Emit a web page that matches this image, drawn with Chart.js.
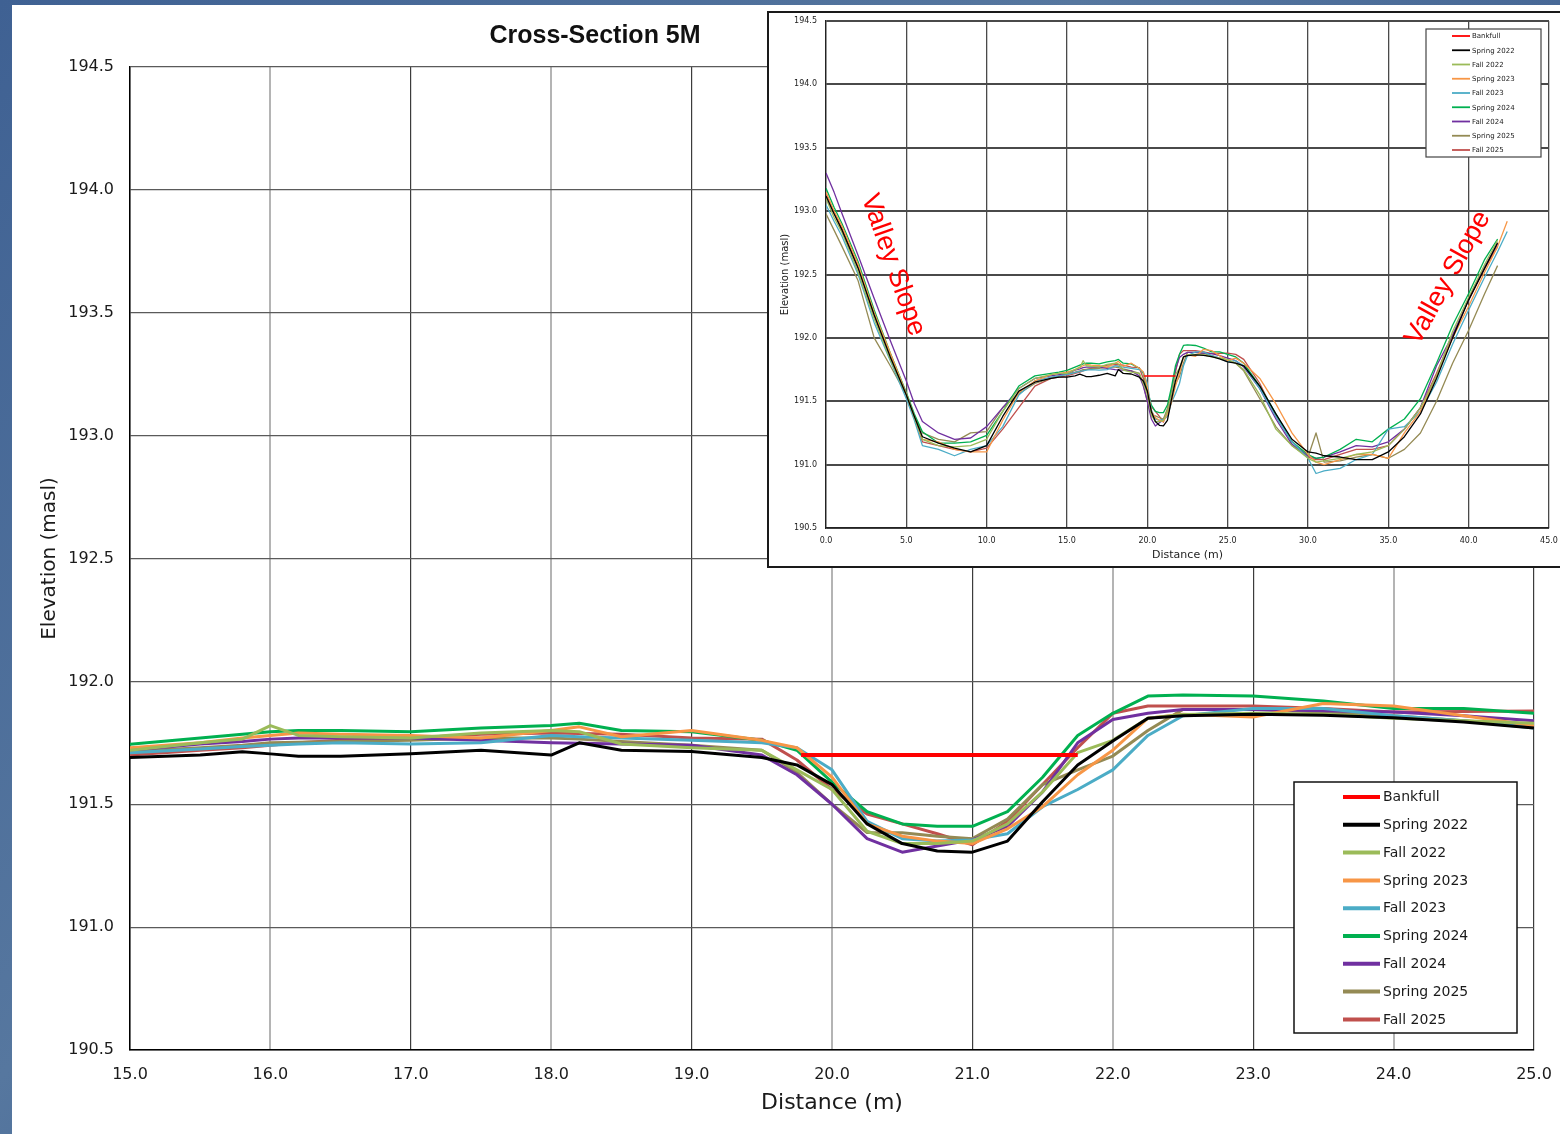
<!DOCTYPE html>
<html>
<head>
<meta charset="utf-8">
<script src="https://cdn.jsdelivr.net/npm/chart.js@4.4.0/dist/chart.umd.min.js"></script>
<style>
html,body{margin:0;padding:0;width:1560px;height:1134px;overflow:hidden;
  background:linear-gradient(135deg,#3f6193 0%,#56779f 40%,#3d5e90 70%,#5273a3 100%);}
#panel{position:absolute;left:12px;top:5px;width:1548px;height:1129px;background:#fff;}
#mainWrap{position:absolute;left:0;top:0;width:1560px;height:1134px;}
#insetBox{position:absolute;left:767px;top:11px;width:800px;height:553px;border:2px solid #1a1a1a;background:#fff;}
#insetWrap{position:absolute;left:0;top:0;width:791px;height:553px;}
</style>
</head>
<body>
<div id="panel"></div>
<div id="mainWrap"><canvas id="mainChart"></canvas></div>
<div id="insetBox"><div id="insetWrap"><canvas id="insetChart"></canvas></div></div>
<script>
// ---------- DATA ----------
const distance = [0, 0.5, 1, 2, 3, 4, 5, 5.5, 6, 7, 8, 9, 10, 11, 12, 13, 14, 14.5,
  15, 15.5, 15.8, 16, 16.2, 16.5, 17, 17.5, 18, 18.2, 18.5, 19, 19.5, 19.75, 20, 20.25, 20.5, 20.75,
  21, 21.25, 21.5, 21.75, 22, 22.25, 22.5, 23, 23.5, 24, 24.5, 25,
  25.5, 26, 27, 28, 29, 30, 30.5, 31, 32, 33, 34, 35, 36, 37, 38, 39, 40, 41, 41.8, 42.4];

const bankfullDistance = [19.78, 21.75];
const bankfullElevation = [191.70, 191.70];

const spring2022 = [193.12, 192.98, 192.85, 192.55, 192.18, 191.85, 191.55, 191.38, 191.22, 191.17, 191.13, 191.10, 191.15, 191.38, 191.58, 191.65, 191.68, 191.69,
  191.69, 191.70, 191.714, 191.705, 191.695, 191.695, 191.705, 191.72, 191.70, 191.75, 191.72, 191.715, 191.69, 191.66, 191.58, 191.42, 191.34, 191.31,
  191.305, 191.35, 191.51, 191.66, 191.757, 191.85, 191.86, 191.866, 191.862, 191.852, 191.835, 191.81,
  191.80, 191.78, 191.62, 191.40, 191.20, 191.10, 191.09, 191.07, 191.06, 191.04, 191.04, 191.10, 191.22, 191.40, 191.68, 192.00, 192.30, 192.55, 192.75, null];

const fall2022 = [193.10, 192.95, 192.83, 192.52, 192.15, 191.83, 191.55, 191.37, 191.20, 191.15, 191.14, 191.15, 191.20, 191.42, 191.60, 191.68, 191.71, 191.72,
  191.72, 191.75, 191.765, 191.82, 191.78, 191.775, 191.77, 191.79, 191.80, 191.795, 191.745, 191.73, 191.72, 191.64, 191.56, 191.39, 191.34, 191.34,
  191.35, 191.42, 191.55, 191.71, 191.76, 191.85, 191.865, 191.87, 191.866, 191.85, 191.84, 191.83,
  191.80, 191.75, 191.55, 191.28, 191.15, 191.05, 191.02, 191.03, 191.05, 191.08, 191.10, 191.15, 191.28, 191.45, 191.70, 192.05, 192.32, 192.58, 192.77, null];

const spring2023 = [193.15, 193.00, 192.88, 192.58, 192.20, 191.88, 191.56, 191.38, 191.20, 191.18, 191.12, 191.10, 191.10, 191.35, 191.57, 191.66, 191.71, 191.72,
  191.73, 191.75, 191.77, 191.78, 191.79, 191.785, 191.78, 191.77, 191.80, 191.815, 191.775, 191.80, 191.76, 191.73, 191.61, 191.42, 191.37, 191.35,
  191.34, 191.40, 191.49, 191.62, 191.72, 191.85, 191.866, 191.855, 191.91, 191.90, 191.86, 191.82,
  191.84, 191.80, 191.68, 191.48, 191.25, 191.08, 191.02, 191.00, 191.04, 191.08, 191.08, 191.05, 191.25, 191.42, 191.70, 192.00, 192.25, 192.52, 192.72, 192.92];

const fall2023 = [193.05, 192.92, 192.80, 192.50, 192.12, 191.82, 191.52, 191.35, 191.15, 191.12, 191.07, 191.12, 191.15, 191.30, 191.55, 191.66, 191.69, 191.70,
  191.71, 191.725, 191.735, 191.74, 191.745, 191.75, 191.745, 191.75, 191.78, 191.775, 191.77, 191.76, 191.75, 191.73, 191.64, 191.43, 191.36, 191.35,
  191.355, 191.38, 191.49, 191.56, 191.64, 191.78, 191.86, 191.89, 191.89, 191.86, 191.84, 191.81,
  191.82, 191.78, 191.60, 191.38, 191.18, 191.05, 190.93, 190.95, 190.97, 191.04, 191.08, 191.28, 191.30, 191.42, 191.65, 191.95, 192.22, 192.48, 192.68, 192.84];

const spring2024 = [193.18, 193.03, 192.90, 192.60, 192.22, 191.88, 191.57, 191.40, 191.26, 191.17, 191.17, 191.18, 191.23, 191.42, 191.62, 191.70, 191.72, 191.73,
  191.744, 191.77, 191.785, 191.795, 191.80, 191.80, 191.795, 191.81, 191.82, 191.83, 191.80, 191.795, 191.76, 191.72, 191.59, 191.47, 191.42, 191.41,
  191.41, 191.47, 191.61, 191.78, 191.87, 191.94, 191.945, 191.94, 191.92, 191.89, 191.89, 191.87,
  191.85, 191.80, 191.62, 191.40, 191.18, 191.08, 191.05, 191.06, 191.12, 191.20, 191.18, 191.28, 191.36, 191.52, 191.80, 192.10, 192.35, 192.62, 192.78, null];

const fall2024 = [193.30, 193.15, 192.98, 192.65, 192.31, 191.98, 191.66, 191.48, 191.34, 191.25, 191.20, 191.21, 191.30, 191.45, 191.60, 191.68, 191.70, 191.71,
  191.72, 191.745, 191.755, 191.765, 191.77, 191.77, 191.77, 191.76, 191.75, 191.748, 191.745, 191.74, 191.70, 191.62, 191.50, 191.36, 191.305, 191.33,
  191.355, 191.41, 191.55, 191.75, 191.845, 191.87, 191.886, 191.886, 191.88, 191.875, 191.86, 191.84,
  191.82, 191.77, 191.60, 191.36, 191.16, 191.07, 191.05, 191.06, 191.10, 191.15, 191.14, 191.18, 191.28, 191.45, 191.78, 192.02, 192.30, 192.56, 192.74, null];

const spring2025 = [192.98, 192.85, 192.72, 192.45, 192.00, 191.78, 191.55, 191.38, 191.25, 191.20, 191.18, 191.25, 191.26, 191.45, 191.56, 191.64, 191.68, 191.70,
  191.715, 191.73, 191.74, 191.75, 191.752, 191.755, 191.76, 191.77, 191.77, 191.765, 191.755, 191.74, 191.72, 191.63, 191.50, 191.385, 191.384, 191.37,
  191.36, 191.44, 191.58, 191.64, 191.696, 191.80, 191.886, 191.886, 191.875, 191.86, 191.84, 191.82,
  191.80, 191.74, 191.52, 191.30, 191.15, 191.06, 191.25, 191.02, 191.03, 191.06, 191.08, 191.05, 191.12, 191.25, 191.50, 191.80, 192.06, 192.35, 192.57, null];

const fall2025 = [193.14, 192.99, 192.86, 192.56, 192.18, 191.85, 191.56, 191.38, 191.18, 191.15, 191.12, 191.10, 191.13, 191.28, 191.45, 191.62, 191.68, 191.69,
  191.70, 191.72, 191.73, 191.74, 191.75, 191.76, 191.77, 191.785, 191.79, 191.788, 191.785, 191.77, 191.765, 191.68, 191.56, 191.46, 191.42, 191.38,
  191.335, 191.43, 191.58, 191.73, 191.87, 191.90, 191.90, 191.90, 191.89, 191.875, 191.877, 191.879,
  191.87, 191.83, 191.64, 191.38, 191.18, 191.06, 191.04, 191.04, 191.08, 191.12, 191.12, 191.15, 191.28, 191.45, 191.72, 192.02, 192.30, 192.55, 192.72, null];

const surveyLabels = ['Spring 2022', 'Fall 2022', 'Spring 2023', 'Fall 2023', 'Spring 2024', 'Fall 2024', 'Spring 2025', 'Fall 2025'];
const surveyValues = [spring2022, fall2022, spring2023, fall2023, spring2024, fall2024, spring2025, fall2025];
const surveyColors = ['#000000', '#9bbb59', '#f79646', '#4bacc6', '#00b050', '#7030a0', '#948a54', '#c0504d'];
const bankfullLabel = 'Bankfull';
const bankfullColor = '#ff0000';

const mainXTicks = {min: 15, max: 25, step: 1};
const insetXTicks = {min: 0, max: 45, step: 5};
const yTicks = {min: 190.5, max: 194.5, step: 0.5};

// ---------- HELPERS ----------
const FONT = '"DejaVu Sans", Verdana, sans-serif';

function makeDatasets(lw, bankLw) {
  const ds = [{
    label: bankfullLabel,
    data: bankfullDistance.map((d, i) => ({x: d, y: bankfullElevation[i]})),
    borderColor: bankfullColor, borderWidth: bankLw
  }];
  surveyLabels.forEach((lab, k) => {
    ds.push({
      label: lab,
      data: distance.map((d, i) => ({x: d, y: surveyValues[k][i]})).filter(p => p.y !== null),
      borderColor: surveyColors[k], borderWidth: lw
    });
  });
  ds.forEach(d => Object.assign(d, {pointRadius: 0, pointHoverRadius: 0, fill: false, tension: 0, clip: 0, borderJoinStyle: 'round', borderCapStyle: 'butt'}));
  return ds;
}

function makeLegendPlugin(id, o) {
  return {
    id: id,
    afterDraw(chart) {
      const ctx = chart.ctx;
      ctx.save();
      ctx.fillStyle = '#ffffff';
      ctx.fillRect(o.x, o.y, o.w, o.h);
      ctx.strokeStyle = o.borderColor;
      ctx.lineWidth = o.border;
      ctx.strokeRect(o.x, o.y, o.w, o.h);
      chart.data.datasets.forEach((ds, i) => {
        const cy = o.y + o.first + i * o.step;
        ctx.strokeStyle = ds.borderColor;
        ctx.lineWidth = o.lineWidth;
        ctx.beginPath();
        ctx.moveTo(o.x0, cy);
        ctx.lineTo(o.x1, cy);
        ctx.stroke();
        ctx.fillStyle = '#1a1a1a';
        ctx.font = o.font;
        ctx.textAlign = 'left';
        ctx.textBaseline = 'middle';
        ctx.fillText(ds.label, o.tx, cy + 0.5);
      });
      ctx.restore();
    }
  };
}

function makeTextPlugin(id, items) {
  return {
    id: id,
    afterDraw(chart) {
      const ctx = chart.ctx;
      items.forEach(t => {
        ctx.save();
        ctx.translate(t.x, t.y);
        ctx.rotate((t.rot || 0) * Math.PI / 180);
        ctx.font = t.font;
        ctx.fillStyle = t.color;
        ctx.textAlign = 'center';
        ctx.textBaseline = 'middle';
        ctx.fillText(t.text, 0, 0);
        ctx.restore();
      });
    }
  };
}

function fixX(h) { return s => { s.height = h; s.paddingLeft = 0; s.paddingRight = 0; }; }
function fixY(w) { return s => { s.width = w; s.paddingTop = 0; s.paddingBottom = 0; }; }

// ---------- MAIN CHART ----------
new Chart(document.getElementById('mainChart'), {
  type: 'line',
  data: {datasets: makeDatasets(3, 4)},
  options: {
    responsive: true, maintainAspectRatio: false, animation: false,
    events: [],
    layout: {padding: {left: 12, right: 26, top: 67, bottom: 0}},
    plugins: {legend: {display: false}, tooltip: {enabled: false}},
    scales: {
      x: {
        type: 'linear', min: mainXTicks.min, max: mainXTicks.max,
        ticks: {stepSize: mainXTicks.step, callback: v => Number(v).toFixed(1), font: {family: FONT, size: 16}, color: '#1a1a1a', padding: 15, maxRotation: 0, autoSkip: false},
        grid: {
          drawTicks: false,
          color: c => (c.tick && Math.round(c.tick.value) % 2 === 0) ? '#b4b4b4' : '#3c3c3c',
          lineWidth: c => (c.tick && Math.round(c.tick.value) % 2 === 0) ? 2 : 1.2
        },
        border: {display: true, color: '#000', width: 1.5},
        title: {display: true, text: 'Distance (m)', font: {family: FONT, size: 22}, color: '#1a1a1a', padding: {top: 0, bottom: 18}},
        afterFit: fixX(84)
      },
      y: {
        type: 'linear', min: yTicks.min, max: yTicks.max,
        ticks: {stepSize: yTicks.step, callback: v => Number(v).toFixed(1), font: {family: FONT, size: 16}, color: '#1a1a1a', padding: 16},
        grid: {drawTicks: false, color: '#5a5a5a', lineWidth: 1.2},
        border: {display: true, color: '#000', width: 1.5},
        title: {display: true, text: 'Elevation (masl)', font: {family: FONT, size: 20}, color: '#1a1a1a', padding: {top: 26, bottom: 0}},
        afterFit: fixY(118)
      }
    }
  },
  plugins: [
    makeLegendPlugin('mainLegend', {x: 1294, y: 782, w: 223, h: 251, border: 1.5, borderColor: '#111', first: 15, step: 27.8, x0: 1343, x1: 1380, tx: 1383, lineWidth: 4, font: '14px ' + FONT}),
    makeTextPlugin('mainTitle', [{text: 'Cross-Section 5M', x: 595, y: 36, font: 'bold 25px "Liberation Sans", Arial, sans-serif', color: '#111'}])
  ]
});

// ---------- INSET CHART ----------
new Chart(document.getElementById('insetChart'), {
  type: 'line',
  data: {datasets: makeDatasets(1.3, 1.5)},
  options: {
    responsive: true, maintainAspectRatio: false, animation: false,
    events: [],
    layout: {padding: {left: 0, right: 11, top: 8, bottom: 0}},
    plugins: {legend: {display: false}, tooltip: {enabled: false}},
    scales: {
      x: {
        type: 'linear', min: insetXTicks.min, max: insetXTicks.max,
        ticks: {stepSize: insetXTicks.step, callback: v => Number(v).toFixed(1), font: {family: FONT, size: 8}, color: '#222', padding: 8, maxRotation: 0, autoSkip: false},
        grid: {drawTicks: false, color: '#4a4a4a', lineWidth: 1.3},
        border: {display: true, color: '#222', width: 1.3},
        title: {display: true, text: 'Distance (m)', font: {family: FONT, size: 11}, color: '#222', padding: {top: 0, bottom: 4}},
        afterFit: fixX(38)
      },
      y: {
        type: 'linear', min: yTicks.min, max: yTicks.max,
        ticks: {stepSize: yTicks.step, callback: v => Number(v).toFixed(1), font: {family: FONT, size: 8}, color: '#222', padding: 9},
        grid: {drawTicks: false, color: '#4a4a4a', lineWidth: 2},
        border: {display: true, color: '#222', width: 1.3},
        title: {display: true, text: 'Elevation (masl)', font: {family: FONT, size: 10}, color: '#222', padding: {top: 10, bottom: 0}},
        afterFit: fixY(57)
      }
    }
  },
  plugins: [
    makeTextPlugin('valleyText', [
      {text: 'Valley Slope', x: 124, y: 252, rot: 70.7, font: '27px "Liberation Sans", Arial, sans-serif', color: '#ff0000'},
      {text: 'Valley Slope', x: 679, y: 265, rot: -61, font: '27px "Liberation Sans", Arial, sans-serif', color: '#ff0000'}
    ]),
    makeLegendPlugin('insetLegend', {x: 657, y: 16, w: 115, h: 128, border: 1.2, borderColor: '#444', first: 7, step: 14.25, x0: 683, x1: 701, tx: 703, lineWidth: 1.8, font: '7px ' + FONT})
  ]
});
</script>
</body>
</html>
